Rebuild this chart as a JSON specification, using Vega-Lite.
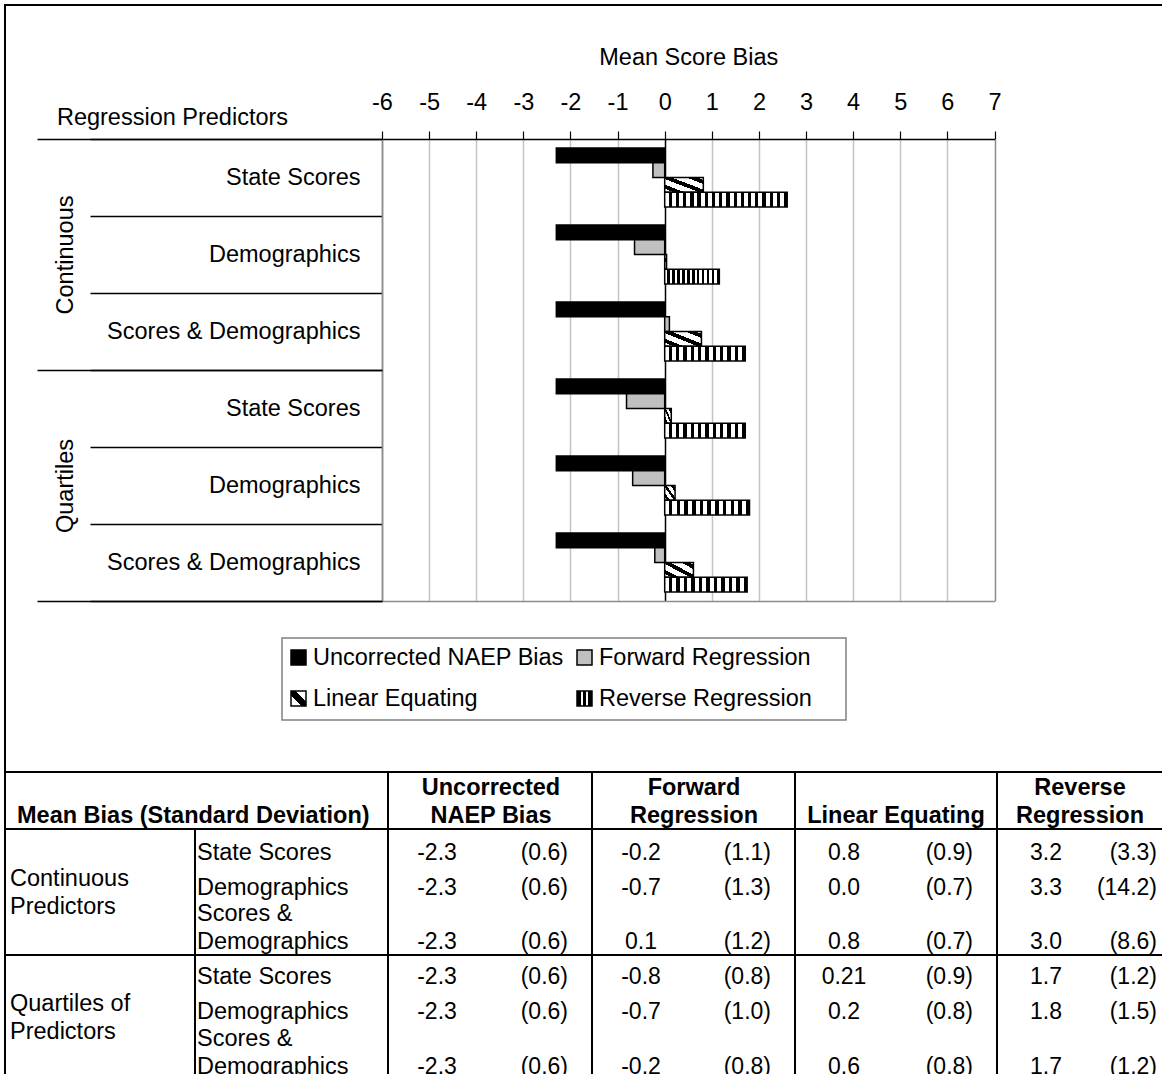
{
  "$schema": "https://vega.github.io/schema/vega-lite/v6.json",
  "width": 1162,
  "height": 1074,
  "padding": 0,
  "autosize": "none",
  "background": "white",
  "config": {"font": "Liberation Sans", "view": {"stroke": null}},
  "datasets": {
    "bars": [
      {"group": "Continuous", "row": "Continuous|State Scores", "series": "Uncorrected NAEP Bias", "value": -2.3},
      {"group": "Continuous", "row": "Continuous|State Scores", "series": "Forward Regression", "value": -0.25},
      {"group": "Continuous", "row": "Continuous|State Scores", "series": "Linear Equating", "value": 0.82},
      {"group": "Continuous", "row": "Continuous|State Scores", "series": "Reverse Regression", "value": 2.6},
      {"group": "Continuous", "row": "Continuous|Demographics", "series": "Uncorrected NAEP Bias", "value": -2.3},
      {"group": "Continuous", "row": "Continuous|Demographics", "series": "Forward Regression", "value": -0.64},
      {"group": "Continuous", "row": "Continuous|Demographics", "series": "Linear Equating", "value": 0.04},
      {"group": "Continuous", "row": "Continuous|Demographics", "series": "Reverse Regression", "value": 1.16},
      {"group": "Continuous", "row": "Continuous|Scores & Demographics", "series": "Uncorrected NAEP Bias", "value": -2.3},
      {"group": "Continuous", "row": "Continuous|Scores & Demographics", "series": "Forward Regression", "value": 0.1},
      {"group": "Continuous", "row": "Continuous|Scores & Demographics", "series": "Linear Equating", "value": 0.78},
      {"group": "Continuous", "row": "Continuous|Scores & Demographics", "series": "Reverse Regression", "value": 1.71},
      {"group": "Quartiles", "row": "Quartiles|State Scores", "series": "Uncorrected NAEP Bias", "value": -2.3},
      {"group": "Quartiles", "row": "Quartiles|State Scores", "series": "Forward Regression", "value": -0.81},
      {"group": "Quartiles", "row": "Quartiles|State Scores", "series": "Linear Equating", "value": 0.14},
      {"group": "Quartiles", "row": "Quartiles|State Scores", "series": "Reverse Regression", "value": 1.71},
      {"group": "Quartiles", "row": "Quartiles|Demographics", "series": "Uncorrected NAEP Bias", "value": -2.3},
      {"group": "Quartiles", "row": "Quartiles|Demographics", "series": "Forward Regression", "value": -0.68},
      {"group": "Quartiles", "row": "Quartiles|Demographics", "series": "Linear Equating", "value": 0.22},
      {"group": "Quartiles", "row": "Quartiles|Demographics", "series": "Reverse Regression", "value": 1.8},
      {"group": "Quartiles", "row": "Quartiles|Scores & Demographics", "series": "Uncorrected NAEP Bias", "value": -2.3},
      {"group": "Quartiles", "row": "Quartiles|Scores & Demographics", "series": "Forward Regression", "value": -0.21},
      {"group": "Quartiles", "row": "Quartiles|Scores & Demographics", "series": "Linear Equating", "value": 0.61},
      {"group": "Quartiles", "row": "Quartiles|Scores & Demographics", "series": "Reverse Regression", "value": 1.75}
    ],
    "legend": [
      {"label": "Uncorrected NAEP Bias", "series": "Uncorrected NAEP Bias", "c": 0, "r": 0},
      {"label": "Forward Regression", "series": "Forward Regression", "c": 1, "r": 0},
      {"label": "Linear Equating", "series": "Linear Equating", "c": 0, "r": 1},
      {"label": "Reverse Regression", "series": "Reverse Regression", "c": 1, "r": 1}
    ],
    "cells": [
      {"g": "Continuous", "sub": "State Scores", "rb": 3, "ci": 2, "ce": 3, "m": "-2.3", "sd": "(0.6)"},
      {"g": "Continuous", "sub": "State Scores", "rb": 3, "ci": 3, "ce": 4, "m": "-0.2", "sd": "(1.1)"},
      {"g": "Continuous", "sub": "State Scores", "rb": 3, "ci": 4, "ce": 5, "m": "0.8", "sd": "(0.9)"},
      {"g": "Continuous", "sub": "State Scores", "rb": 3, "ci": 5, "ce": 6, "m": "3.2", "sd": "(3.3)"},
      {"g": "Continuous", "sub": "Demographics", "rb": 4, "ci": 2, "ce": 3, "m": "-2.3", "sd": "(0.6)"},
      {"g": "Continuous", "sub": "Demographics", "rb": 4, "ci": 3, "ce": 4, "m": "-0.7", "sd": "(1.3)"},
      {"g": "Continuous", "sub": "Demographics", "rb": 4, "ci": 4, "ce": 5, "m": "0.0", "sd": "(0.7)"},
      {"g": "Continuous", "sub": "Demographics", "rb": 4, "ci": 5, "ce": 6, "m": "3.3", "sd": "(14.2)"},
      {"g": "Continuous", "sub": "Scores & Demographics", "rb": 5, "ci": 2, "ce": 3, "m": "-2.3", "sd": "(0.6)"},
      {"g": "Continuous", "sub": "Scores & Demographics", "rb": 5, "ci": 3, "ce": 4, "m": "0.1", "sd": "(1.2)"},
      {"g": "Continuous", "sub": "Scores & Demographics", "rb": 5, "ci": 4, "ce": 5, "m": "0.8", "sd": "(0.7)"},
      {"g": "Continuous", "sub": "Scores & Demographics", "rb": 5, "ci": 5, "ce": 6, "m": "3.0", "sd": "(8.6)"},
      {"g": "Quartiles", "sub": "State Scores", "rb": 6, "ci": 2, "ce": 3, "m": "-2.3", "sd": "(0.6)"},
      {"g": "Quartiles", "sub": "State Scores", "rb": 6, "ci": 3, "ce": 4, "m": "-0.8", "sd": "(0.8)"},
      {"g": "Quartiles", "sub": "State Scores", "rb": 6, "ci": 4, "ce": 5, "m": "0.21", "sd": "(0.9)"},
      {"g": "Quartiles", "sub": "State Scores", "rb": 6, "ci": 5, "ce": 6, "m": "1.7", "sd": "(1.2)"},
      {"g": "Quartiles", "sub": "Demographics", "rb": 7, "ci": 2, "ce": 3, "m": "-2.3", "sd": "(0.6)"},
      {"g": "Quartiles", "sub": "Demographics", "rb": 7, "ci": 3, "ce": 4, "m": "-0.7", "sd": "(1.0)"},
      {"g": "Quartiles", "sub": "Demographics", "rb": 7, "ci": 4, "ce": 5, "m": "0.2", "sd": "(0.8)"},
      {"g": "Quartiles", "sub": "Demographics", "rb": 7, "ci": 5, "ce": 6, "m": "1.8", "sd": "(1.5)"},
      {"g": "Quartiles", "sub": "Scores & Demographics", "rb": 8, "ci": 2, "ce": 3, "m": "-2.3", "sd": "(0.6)"},
      {"g": "Quartiles", "sub": "Scores & Demographics", "rb": 8, "ci": 3, "ce": 4, "m": "-0.2", "sd": "(0.8)"},
      {"g": "Quartiles", "sub": "Scores & Demographics", "rb": 8, "ci": 4, "ce": 5, "m": "0.6", "sd": "(0.8)"},
      {"g": "Quartiles", "sub": "Scores & Demographics", "rb": 8, "ci": 5, "ce": 6, "m": "1.7", "sd": "(1.2)"}
    ],
    "rowlabels1": [
      {"t": "State Scores", "c": 1, "rb": 3},
      {"t": "Demographics", "c": 1, "rb": 4},
      {"t": "State Scores", "c": 1, "rb": 6},
      {"t": "Demographics", "c": 1, "rb": 7}
    ],
    "rowlabels2": [
      {"t": "Scores &\nDemographics", "c": 1, "rb": 5},
      {"t": "Scores &\nDemographics", "c": 1, "rb": 8}
    ],
    "grouplabels": [
      {"t": "Continuous\nPredictors", "c": 0, "rb": 5},
      {"t": "Quartiles of\nPredictors", "c": 0, "rb": 8}
    ],
    "headers2": [
      {"t": "Uncorrected\nNAEP Bias", "ce": 3, "rb": 2},
      {"t": "Forward\nRegression", "ce": 4, "rb": 2},
      {"t": "Reverse\nRegression", "ce": 6, "rb": 2}
    ],
    "headers1": [
      {"t": "Linear Equating", "ce": 5, "rb": 2}
    ],
    "blocks": [
      {"x0": 0, "x1": 6, "y0": 0, "y1": 1},
      {"x0": 0, "x1": 2, "y0": 1, "y1": 2},
      {"x0": 2, "x1": 3, "y0": 1, "y1": 2},
      {"x0": 3, "x1": 4, "y0": 1, "y1": 2},
      {"x0": 4, "x1": 5, "y0": 1, "y1": 2},
      {"x0": 5, "x1": 6, "y0": 1, "y1": 2},
      {"x0": 0, "x1": 1, "y0": 2, "y1": 5},
      {"x0": 1, "x1": 2, "y0": 2, "y1": 5},
      {"x0": 2, "x1": 3, "y0": 2, "y1": 5},
      {"x0": 3, "x1": 4, "y0": 2, "y1": 5},
      {"x0": 4, "x1": 5, "y0": 2, "y1": 5},
      {"x0": 5, "x1": 6, "y0": 2, "y1": 5},
      {"x0": 0, "x1": 1, "y0": 5, "y1": 8},
      {"x0": 1, "x1": 2, "y0": 5, "y1": 8},
      {"x0": 2, "x1": 3, "y0": 5, "y1": 8},
      {"x0": 3, "x1": 4, "y0": 5, "y1": 8},
      {"x0": 4, "x1": 5, "y0": 5, "y1": 8},
      {"x0": 5, "x1": 6, "y0": 5, "y1": 8}
    ]
  },
  "layer": [
    {
      "data": {"name": "bars"},
      "encoding": {
        "y": {
          "field": "row", "type": "nominal", "sort": null,
          "scale": {"domain": ["Continuous|State Scores", "Continuous|Demographics", "Continuous|Scores & Demographics", "Quartiles|State Scores", "Quartiles|Demographics", "Quartiles|Scores & Demographics"], "range": [139, 601], "paddingInner": 0, "paddingOuter": 0}
        },
        "yOffset": {
          "field": "series", "type": "nominal", "sort": null,
          "scale": {"domain": ["Uncorrected NAEP Bias", "Forward Regression", "Linear Equating", "Reverse Regression"], "paddingInner": 0, "paddingOuter": 0.6}
        }
      },
      "layer": [
        {
          "transform": [{"filter": "datum.series == 'Uncorrected NAEP Bias'"}],
          "mark": {"type": "bar", "fill": "#000000", "stroke": "#000000", "strokeWidth": 1.5},
          "encoding": {
            "x": {
              "field": "value", "type": "quantitative",
              "scale": {"domain": [-6, 7], "range": [382, 994.5], "nice": false, "zero": false},
              "axis": {
                "orient": "top", "offset": -139, "values": [-6, -5, -4, -3, -2, -1, 0, 1, 2, 3, 4, 5, 6, 7],
                "labelExpr": "datum.value + ''",
                "grid": true, "gridWidth": 1.5,
                "gridColor": {"condition": [{"test": "datum.value == 0", "value": "#000000"}, {"test": "datum.value == -6 || datum.value == 7", "value": "#8c8c8c"}], "value": "#c4c4c4"},
                "domainColor": "#000000", "domainWidth": 1.5, "tickColor": "#000000", "tickWidth": 1.2, "tickSize": 8,
                "labelFontSize": 23.5, "labelColor": "#000000", "labelPadding": 17, "labelFlush": false, "labelOverlap": false,
                "title": "Mean Score Bias", "titleFontSize": 23.5, "titleFontWeight": "normal", "titleColor": "#000000", "titlePadding": 21
              }
            },
            "y": {
              "field": "row", "type": "nominal", "sort": null,
              "scale": {"domain": ["Continuous|State Scores", "Continuous|Demographics", "Continuous|Scores & Demographics", "Quartiles|State Scores", "Quartiles|Demographics", "Quartiles|Scores & Demographics"], "range": [139, 601], "paddingInner": 0, "paddingOuter": 0},
              "axis": {
                "orient": "left", "offset": -382, "tickBand": "extent", "tickSize": 292, "tickColor": "#000000", "tickWidth": 1.5,
                "domainColor": "#8c8c8c", "domainWidth": 1.5,
                "labelExpr": "split(datum.label, '|')[1]", "labelFontSize": 23.5, "labelColor": "#000000", "labelAlign": "right", "labelBaseline": "middle", "labelPadding": -270, "labelLimit": 0,
                "grid": true, "gridColor": "#8c8c8c", "gridWidth": 1.5,
                "gridOpacity": {"condition": {"test": "datum.value == 'Quartiles|Scores & Demographics'", "value": 1}, "value": 0},
                "title": "Regression Predictors", "titleAngle": 0, "titleX": -210, "titleY": 117, "titleAlign": "center", "titleBaseline": "middle",
                "titleFontSize": 23.5, "titleFontWeight": "normal", "titleColor": "#000000"
              }
            }
          }
        },
        {
          "transform": [{"filter": "datum.series == 'Forward Regression'"}],
          "mark": {"type": "bar", "fill": "#c0c0c0", "stroke": "#000000", "strokeWidth": 1.5},
          "encoding": {"x": {"field": "value", "type": "quantitative"}}
        },
        {
          "transform": [{"filter": "datum.series == 'Linear Equating'"}],
          "mark": {
            "type": "bar", "stroke": "#000000", "strokeWidth": 1.5,
            "fill": {"gradient": "linear", "x1": 0, "y1": 1, "x2": 1, "y2": 0, "stops": [
              {"offset": 0, "color": "#ffffff"}, {"offset": 0.12, "color": "#ffffff"},
              {"offset": 0.12, "color": "#000000"}, {"offset": 0.26, "color": "#000000"},
              {"offset": 0.26, "color": "#ffffff"}, {"offset": 0.45, "color": "#ffffff"},
              {"offset": 0.45, "color": "#000000"}, {"offset": 0.59, "color": "#000000"},
              {"offset": 0.59, "color": "#ffffff"}, {"offset": 0.78, "color": "#ffffff"},
              {"offset": 0.78, "color": "#000000"}, {"offset": 0.92, "color": "#000000"},
              {"offset": 0.92, "color": "#ffffff"}, {"offset": 1, "color": "#ffffff"}
            ]}
          },
          "encoding": {"x": {"field": "value", "type": "quantitative"}}
        },
        {
          "transform": [{"filter": "datum.series == 'Reverse Regression' && datum.value > 2"}],
          "mark": {
            "type": "bar", "stroke": "#000000", "strokeWidth": 1.5,
            "fill": {"gradient": "linear", "x1": 0, "y1": 0, "x2": 1, "y2": 0, "stops": [
              {"offset": 0, "color": "#ffffff"}, {"offset": 0.0324, "color": "#ffffff"}, {"offset": 0.0324, "color": "#000000"}, {"offset": 0.0588, "color": "#000000"},
              {"offset": 0.0588, "color": "#ffffff"}, {"offset": 0.0912, "color": "#ffffff"}, {"offset": 0.0912, "color": "#000000"}, {"offset": 0.1176, "color": "#000000"},
              {"offset": 0.1176, "color": "#ffffff"}, {"offset": 0.15, "color": "#ffffff"}, {"offset": 0.15, "color": "#000000"}, {"offset": 0.1765, "color": "#000000"},
              {"offset": 0.1765, "color": "#ffffff"}, {"offset": 0.2089, "color": "#ffffff"}, {"offset": 0.2089, "color": "#000000"}, {"offset": 0.2353, "color": "#000000"},
              {"offset": 0.2353, "color": "#ffffff"}, {"offset": 0.2677, "color": "#ffffff"}, {"offset": 0.2677, "color": "#000000"}, {"offset": 0.2941, "color": "#000000"},
              {"offset": 0.2941, "color": "#ffffff"}, {"offset": 0.3265, "color": "#ffffff"}, {"offset": 0.3265, "color": "#000000"}, {"offset": 0.3529, "color": "#000000"},
              {"offset": 0.3529, "color": "#ffffff"}, {"offset": 0.3853, "color": "#ffffff"}, {"offset": 0.3853, "color": "#000000"}, {"offset": 0.4118, "color": "#000000"},
              {"offset": 0.4118, "color": "#ffffff"}, {"offset": 0.4442, "color": "#ffffff"}, {"offset": 0.4442, "color": "#000000"}, {"offset": 0.4706, "color": "#000000"},
              {"offset": 0.4706, "color": "#ffffff"}, {"offset": 0.503, "color": "#ffffff"}, {"offset": 0.503, "color": "#000000"}, {"offset": 0.5294, "color": "#000000"},
              {"offset": 0.5294, "color": "#ffffff"}, {"offset": 0.5618, "color": "#ffffff"}, {"offset": 0.5618, "color": "#000000"}, {"offset": 0.5882, "color": "#000000"},
              {"offset": 0.5882, "color": "#ffffff"}, {"offset": 0.6206, "color": "#ffffff"}, {"offset": 0.6206, "color": "#000000"}, {"offset": 0.6471, "color": "#000000"},
              {"offset": 0.6471, "color": "#ffffff"}, {"offset": 0.6795, "color": "#ffffff"}, {"offset": 0.6795, "color": "#000000"}, {"offset": 0.7059, "color": "#000000"},
              {"offset": 0.7059, "color": "#ffffff"}, {"offset": 0.7383, "color": "#ffffff"}, {"offset": 0.7383, "color": "#000000"}, {"offset": 0.7647, "color": "#000000"},
              {"offset": 0.7647, "color": "#ffffff"}, {"offset": 0.7971, "color": "#ffffff"}, {"offset": 0.7971, "color": "#000000"}, {"offset": 0.8235, "color": "#000000"},
              {"offset": 0.8235, "color": "#ffffff"}, {"offset": 0.8559, "color": "#ffffff"}, {"offset": 0.8559, "color": "#000000"}, {"offset": 0.8824, "color": "#000000"},
              {"offset": 0.8824, "color": "#ffffff"}, {"offset": 0.9148, "color": "#ffffff"}, {"offset": 0.9148, "color": "#000000"}, {"offset": 0.9412, "color": "#000000"},
              {"offset": 0.9412, "color": "#ffffff"}, {"offset": 0.9736, "color": "#ffffff"}, {"offset": 0.9736, "color": "#000000"}, {"offset": 1, "color": "#000000"}
            ]}
          },
          "encoding": {"x": {"field": "value", "type": "quantitative"}}
        },
        {
          "transform": [{"filter": "datum.series == 'Reverse Regression' && datum.value <= 2"}],
          "mark": {
            "type": "bar", "stroke": "#000000", "strokeWidth": 1.5,
            "fill": {"gradient": "linear", "x1": 0, "y1": 0, "x2": 1, "y2": 0, "stops": [
              {"offset": 0, "color": "#ffffff"}, {"offset": 0.05, "color": "#ffffff"}, {"offset": 0.05, "color": "#000000"}, {"offset": 0.0909, "color": "#000000"},
              {"offset": 0.0909, "color": "#ffffff"}, {"offset": 0.1409, "color": "#ffffff"}, {"offset": 0.1409, "color": "#000000"}, {"offset": 0.1818, "color": "#000000"},
              {"offset": 0.1818, "color": "#ffffff"}, {"offset": 0.2318, "color": "#ffffff"}, {"offset": 0.2318, "color": "#000000"}, {"offset": 0.2727, "color": "#000000"},
              {"offset": 0.2727, "color": "#ffffff"}, {"offset": 0.3227, "color": "#ffffff"}, {"offset": 0.3227, "color": "#000000"}, {"offset": 0.3636, "color": "#000000"},
              {"offset": 0.3636, "color": "#ffffff"}, {"offset": 0.4136, "color": "#ffffff"}, {"offset": 0.4136, "color": "#000000"}, {"offset": 0.4545, "color": "#000000"},
              {"offset": 0.4545, "color": "#ffffff"}, {"offset": 0.5045, "color": "#ffffff"}, {"offset": 0.5045, "color": "#000000"}, {"offset": 0.5455, "color": "#000000"},
              {"offset": 0.5455, "color": "#ffffff"}, {"offset": 0.5955, "color": "#ffffff"}, {"offset": 0.5955, "color": "#000000"}, {"offset": 0.6364, "color": "#000000"},
              {"offset": 0.6364, "color": "#ffffff"}, {"offset": 0.6864, "color": "#ffffff"}, {"offset": 0.6864, "color": "#000000"}, {"offset": 0.7273, "color": "#000000"},
              {"offset": 0.7273, "color": "#ffffff"}, {"offset": 0.7773, "color": "#ffffff"}, {"offset": 0.7773, "color": "#000000"}, {"offset": 0.8182, "color": "#000000"},
              {"offset": 0.8182, "color": "#ffffff"}, {"offset": 0.8682, "color": "#ffffff"}, {"offset": 0.8682, "color": "#000000"}, {"offset": 0.9091, "color": "#000000"},
              {"offset": 0.9091, "color": "#ffffff"}, {"offset": 0.9591, "color": "#ffffff"}, {"offset": 0.9591, "color": "#000000"}, {"offset": 1, "color": "#000000"}
            ]}
          },
          "encoding": {"x": {"field": "value", "type": "quantitative"}}
        }
      ]
    },
    {
      "data": {"name": "bars"},
      "mark": {"type": "point", "opacity": 0},
      "encoding": {
        "x": {"field": "value", "type": "quantitative", "scale": {"domain": [-6, 7], "range": [382, 994.5], "nice": false, "zero": false}, "axis": null},
        "y": {
          "field": "group", "type": "nominal", "sort": null,
          "scale": {"domain": ["Continuous", "Quartiles"], "range": [139, 601], "paddingInner": 0, "paddingOuter": 0},
          "axis": {
            "orient": "left", "offset": -382, "tickBand": "extent", "tickSize": 345, "tickColor": "#000000", "tickWidth": 1.5,
            "domain": false, "labelAngle": 270, "labelAlign": "center", "labelBaseline": "middle", "labelPadding": -28,
            "labelFontSize": 23.5, "labelColor": "#000000", "title": null
          }
        }
      }
    },
    {
      "data": {"name": "legend"},
      "layer": [
        {
          "data": {"values": [{"box": "legend"}]},
          "mark": {"type": "rect", "fill": "#ffffff", "stroke": "#808080", "strokeWidth": 1.5},
          "encoding": {
            "x": {"datum": 0, "type": "quantitative", "scale": {"type": "linear", "domain": [0, 1, 2], "range": [282, 568, 846], "nice": false, "zero": false}, "axis": null},
            "x2": {"datum": 2},
            "y": {"datum": 0, "type": "quantitative", "scale": {"type": "linear", "domain": [0, 1, 2], "range": [638, 679, 720], "nice": false, "zero": false}, "axis": null},
            "y2": {"datum": 2}
          }
        },
        {
          "transform": [{"filter": "datum.series == 'Uncorrected NAEP Bias'"}],
          "mark": {"type": "rect", "fill": "#000000", "stroke": "#000000", "strokeWidth": 1.5, "xOffset": 9, "x2Offset": 24, "yOffset": 12, "y2Offset": 27},
          "encoding": {
            "x": {"field": "c", "type": "quantitative", "scale": {"type": "linear", "domain": [0, 1, 2], "range": [282, 568, 846], "nice": false, "zero": false}, "axis": null},
            "x2": {"field": "c"},
            "y": {"field": "r", "type": "quantitative", "scale": {"type": "linear", "domain": [0, 1, 2], "range": [638, 679, 720], "nice": false, "zero": false}, "axis": null},
            "y2": {"field": "r"}
          }
        },
        {
          "transform": [{"filter": "datum.series == 'Forward Regression'"}],
          "mark": {"type": "rect", "fill": "#c0c0c0", "stroke": "#000000", "strokeWidth": 1.5, "xOffset": 9, "x2Offset": 24, "yOffset": 12, "y2Offset": 27},
          "encoding": {
            "x": {"field": "c", "type": "quantitative", "scale": {"type": "linear", "domain": [0, 1, 2], "range": [282, 568, 846], "nice": false, "zero": false}, "axis": null},
            "x2": {"field": "c"},
            "y": {"field": "r", "type": "quantitative", "scale": {"type": "linear", "domain": [0, 1, 2], "range": [638, 679, 720], "nice": false, "zero": false}, "axis": null},
            "y2": {"field": "r"}
          }
        },
        {
          "transform": [{"filter": "datum.series == 'Linear Equating'"}],
          "mark": {"type": "rect", "stroke": "#000000", "strokeWidth": 1.5, "xOffset": 9, "x2Offset": 24, "yOffset": 12, "y2Offset": 27,
            "fill": {"gradient": "linear", "x1": 0, "y1": 1, "x2": 1, "y2": 0, "stops": [
              {"offset": 0, "color": "#ffffff"}, {"offset": 0.36, "color": "#ffffff"},
              {"offset": 0.36, "color": "#000000"}, {"offset": 0.64, "color": "#000000"},
              {"offset": 0.64, "color": "#ffffff"}, {"offset": 1, "color": "#ffffff"}
            ]}
          },
          "encoding": {
            "x": {"field": "c", "type": "quantitative", "scale": {"type": "linear", "domain": [0, 1, 2], "range": [282, 568, 846], "nice": false, "zero": false}, "axis": null},
            "x2": {"field": "c"},
            "y": {"field": "r", "type": "quantitative", "scale": {"type": "linear", "domain": [0, 1, 2], "range": [638, 679, 720], "nice": false, "zero": false}, "axis": null},
            "y2": {"field": "r"}
          }
        },
        {
          "transform": [{"filter": "datum.series == 'Reverse Regression'"}],
          "mark": {"type": "rect", "stroke": "#000000", "strokeWidth": 1.5, "xOffset": 9, "x2Offset": 24, "yOffset": 12, "y2Offset": 27,
            "fill": {"gradient": "linear", "x1": 0, "y1": 0, "x2": 1, "y2": 0, "stops": [
              {"offset": 0, "color": "#000000"}, {"offset": 0.25, "color": "#000000"},
              {"offset": 0.25, "color": "#ffffff"}, {"offset": 0.42, "color": "#ffffff"},
              {"offset": 0.42, "color": "#000000"}, {"offset": 0.58, "color": "#000000"},
              {"offset": 0.58, "color": "#ffffff"}, {"offset": 0.75, "color": "#ffffff"},
              {"offset": 0.75, "color": "#000000"}, {"offset": 1, "color": "#000000"}
            ]}
          },
          "encoding": {
            "x": {"field": "c", "type": "quantitative", "scale": {"type": "linear", "domain": [0, 1, 2], "range": [282, 568, 846], "nice": false, "zero": false}, "axis": null},
            "x2": {"field": "c"},
            "y": {"field": "r", "type": "quantitative", "scale": {"type": "linear", "domain": [0, 1, 2], "range": [638, 679, 720], "nice": false, "zero": false}, "axis": null},
            "y2": {"field": "r"}
          }
        },
        {
          "mark": {"type": "text", "align": "left", "baseline": "middle", "fontSize": 23.5, "color": "#000000", "xOffset": 31, "yOffset": 20},
          "encoding": {
            "x": {"field": "c", "type": "quantitative", "scale": {"type": "linear", "domain": [0, 1, 2], "range": [282, 568, 846], "nice": false, "zero": false}, "axis": null},
            "y": {"field": "r", "type": "quantitative", "scale": {"type": "linear", "domain": [0, 1, 2], "range": [638, 679, 720], "nice": false, "zero": false}, "axis": null},
            "text": {"field": "label"}
          }
        }
      ]
    },
    {
      "layer": [
        {
          "data": {"name": "blocks"},
          "mark": {"type": "rect", "fill": "#ffffff", "fillOpacity": 0, "stroke": "#000000", "strokeWidth": 2},
          "encoding": {
            "x": {"field": "x0", "type": "quantitative", "scale": {"type": "linear", "domain": [0, 1, 2, 3, 4, 5, 6], "range": [5, 195, 388, 592, 795, 997, 1181], "nice": false, "zero": false}, "axis": null},
            "x2": {"field": "x1"},
            "y": {"field": "y0", "type": "quantitative", "scale": {"type": "linear", "domain": [0, 1, 2, 3, 4, 5, 6, 7, 8], "range": [5, 772, 829, 866, 901, 955, 990, 1025, 1080], "nice": false, "zero": false}, "axis": null},
            "y2": {"field": "y1"}
          }
        },
        {
          "data": {"values": [{"t": "Mean Bias (Standard Deviation)", "c": 0, "rb": 2}]},
          "mark": {"type": "text", "align": "left", "baseline": "bottom", "fontSize": 23.5, "fontWeight": "bold", "color": "#000000", "xOffset": 12, "yOffset": -1},
          "encoding": {
            "x": {"field": "c", "type": "quantitative", "scale": {"type": "linear", "domain": [0, 1, 2, 3, 4, 5, 6], "range": [5, 195, 388, 592, 795, 997, 1181], "nice": false, "zero": false}, "axis": null},
            "y": {"field": "rb", "type": "quantitative", "scale": {"type": "linear", "domain": [0, 1, 2, 3, 4, 5, 6, 7, 8], "range": [5, 772, 829, 866, 901, 955, 990, 1025, 1080], "nice": false, "zero": false}, "axis": null},
            "text": {"field": "t"}
          }
        },
        {
          "data": {"name": "headers2"},
          "mark": {"type": "text", "align": "center", "baseline": "bottom", "fontSize": 23.5, "fontWeight": "bold", "color": "#000000", "lineBreak": "\n", "lineHeight": 28, "xOffset": -101, "yOffset": -29},
          "encoding": {
            "x": {"field": "ce", "type": "quantitative", "scale": {"type": "linear", "domain": [0, 1, 2, 3, 4, 5, 6], "range": [5, 195, 388, 592, 795, 997, 1181], "nice": false, "zero": false}, "axis": null},
            "y": {"field": "rb", "type": "quantitative", "scale": {"type": "linear", "domain": [0, 1, 2, 3, 4, 5, 6, 7, 8], "range": [5, 772, 829, 866, 901, 955, 990, 1025, 1080], "nice": false, "zero": false}, "axis": null},
            "text": {"field": "t"}
          }
        },
        {
          "data": {"name": "headers1"},
          "mark": {"type": "text", "align": "center", "baseline": "bottom", "fontSize": 23.5, "fontWeight": "bold", "color": "#000000", "xOffset": -101, "yOffset": -1},
          "encoding": {
            "x": {"field": "ce", "type": "quantitative", "scale": {"type": "linear", "domain": [0, 1, 2, 3, 4, 5, 6], "range": [5, 195, 388, 592, 795, 997, 1181], "nice": false, "zero": false}, "axis": null},
            "y": {"field": "rb", "type": "quantitative", "scale": {"type": "linear", "domain": [0, 1, 2, 3, 4, 5, 6, 7, 8], "range": [5, 772, 829, 866, 901, 955, 990, 1025, 1080], "nice": false, "zero": false}, "axis": null},
            "text": {"field": "t"}
          }
        },
        {
          "data": {"name": "grouplabels"},
          "mark": {"type": "text", "align": "left", "baseline": "bottom", "fontSize": 23.5, "color": "#000000", "lineBreak": "\n", "lineHeight": 28, "xOffset": 5, "yOffset": -64.5},
          "encoding": {
            "x": {"field": "c", "type": "quantitative", "scale": {"type": "linear", "domain": [0, 1, 2, 3, 4, 5, 6], "range": [5, 195, 388, 592, 795, 997, 1181], "nice": false, "zero": false}, "axis": null},
            "y": {"field": "rb", "type": "quantitative", "scale": {"type": "linear", "domain": [0, 1, 2, 3, 4, 5, 6, 7, 8], "range": [5, 772, 829, 866, 901, 955, 990, 1025, 1080], "nice": false, "zero": false}, "axis": null},
            "text": {"field": "t"}
          }
        },
        {
          "data": {"name": "rowlabels1"},
          "mark": {"type": "text", "align": "left", "baseline": "bottom", "fontSize": 23.5, "color": "#000000", "xOffset": 2, "yOffset": -1.5},
          "encoding": {
            "x": {"field": "c", "type": "quantitative", "scale": {"type": "linear", "domain": [0, 1, 2, 3, 4, 5, 6], "range": [5, 195, 388, 592, 795, 997, 1181], "nice": false, "zero": false}, "axis": null},
            "y": {"field": "rb", "type": "quantitative", "scale": {"type": "linear", "domain": [0, 1, 2, 3, 4, 5, 6, 7, 8], "range": [5, 772, 829, 866, 901, 955, 990, 1025, 1080], "nice": false, "zero": false}, "axis": null},
            "text": {"field": "t"}
          }
        },
        {
          "data": {"name": "rowlabels2"},
          "mark": {"type": "text", "align": "left", "baseline": "bottom", "fontSize": 23.5, "color": "#000000", "lineBreak": "\n", "lineHeight": 28, "xOffset": 2, "yOffset": -29.5},
          "encoding": {
            "x": {"field": "c", "type": "quantitative", "scale": {"type": "linear", "domain": [0, 1, 2, 3, 4, 5, 6], "range": [5, 195, 388, 592, 795, 997, 1181], "nice": false, "zero": false}, "axis": null},
            "y": {"field": "rb", "type": "quantitative", "scale": {"type": "linear", "domain": [0, 1, 2, 3, 4, 5, 6, 7, 8], "range": [5, 772, 829, 866, 901, 955, 990, 1025, 1080], "nice": false, "zero": false}, "axis": null},
            "text": {"field": "t"}
          }
        },
        {
          "data": {"name": "cells"},
          "mark": {"type": "text", "align": "center", "baseline": "bottom", "fontSize": 23, "color": "#000000", "xOffset": 49, "yOffset": -1.5},
          "encoding": {
            "x": {"field": "ci", "type": "quantitative", "scale": {"type": "linear", "domain": [0, 1, 2, 3, 4, 5, 6], "range": [5, 195, 388, 592, 795, 997, 1181], "nice": false, "zero": false}, "axis": null},
            "y": {"field": "rb", "type": "quantitative", "scale": {"type": "linear", "domain": [0, 1, 2, 3, 4, 5, 6, 7, 8], "range": [5, 772, 829, 866, 901, 955, 990, 1025, 1080], "nice": false, "zero": false}, "axis": null},
            "text": {"field": "m"}
          }
        },
        {
          "data": {"name": "cells"},
          "mark": {"type": "text", "align": "right", "baseline": "bottom", "fontSize": 23, "color": "#000000", "xOffset": -24, "yOffset": -1.5},
          "encoding": {
            "x": {"field": "ce", "type": "quantitative", "scale": {"type": "linear", "domain": [0, 1, 2, 3, 4, 5, 6], "range": [5, 195, 388, 592, 795, 997, 1181], "nice": false, "zero": false}, "axis": null},
            "y": {"field": "rb", "type": "quantitative", "scale": {"type": "linear", "domain": [0, 1, 2, 3, 4, 5, 6, 7, 8], "range": [5, 772, 829, 866, 901, 955, 990, 1025, 1080], "nice": false, "zero": false}, "axis": null},
            "text": {"field": "sd"}
          }
        }
      ]
    }
  ],
  "resolve": {"scale": {"x": "independent", "y": "independent", "yOffset": "independent"}}
}
